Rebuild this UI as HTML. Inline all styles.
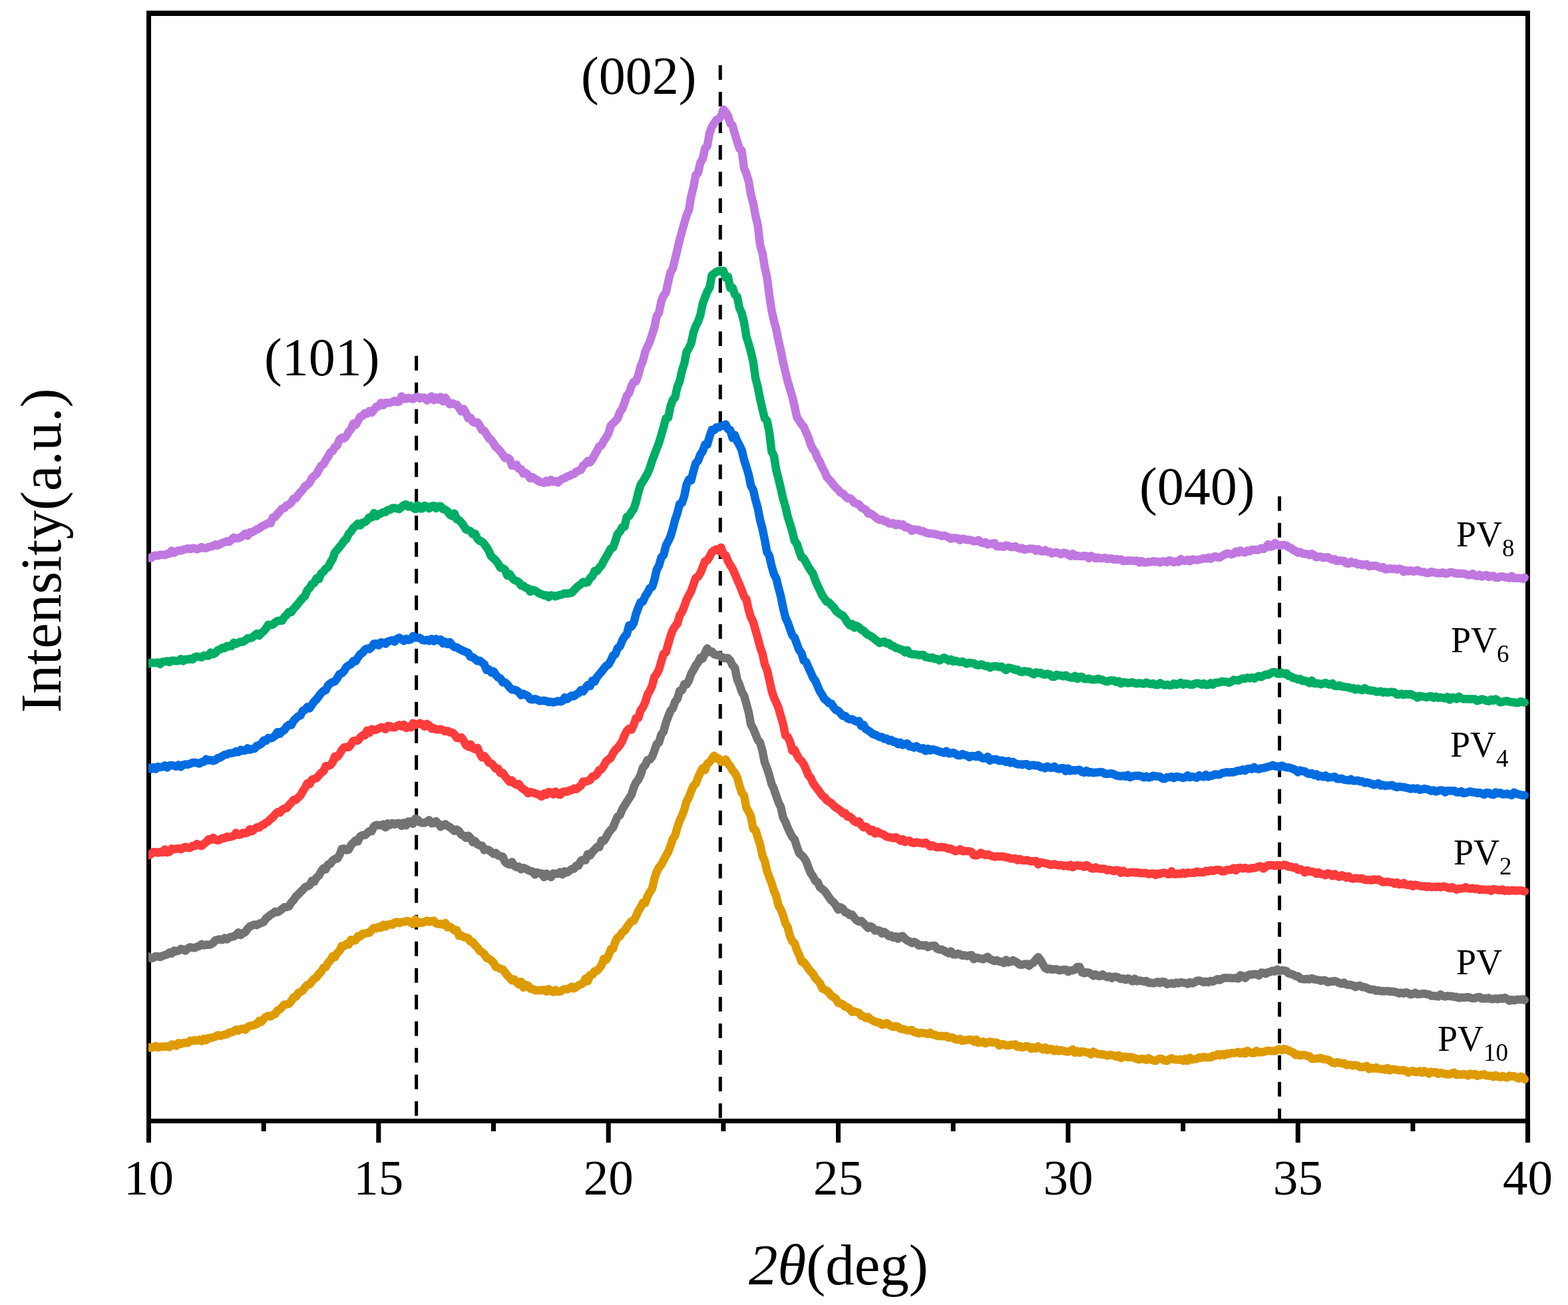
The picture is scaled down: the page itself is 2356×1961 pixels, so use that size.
<!DOCTYPE html>
<html><head><meta charset="utf-8"><style>
html,body{margin:0;padding:0;background:#fff;}
svg{display:block;}
text{font-family:"Liberation Serif","Times New Roman",serif;fill:#000;}
</style></head><body>
<svg xmlns="http://www.w3.org/2000/svg" width="2356" height="1961" viewBox="0 0 2356 1961">
<rect width="2356" height="1961" fill="#fff"/>
<g stroke="#000" stroke-width="5" stroke-dasharray="22 18" fill="none">
<line x1="625.6" y1="534.7" x2="625.6" y2="1681"/>
<line x1="1082.3" y1="98" x2="1082.3" y2="1681"/>
<line x1="1922.5" y1="745.8" x2="1922.5" y2="1681"/>
</g>
<g fill="#000">
<rect x="220" y="16" width="2079" height="8"/>
<rect x="220" y="1681" width="2079" height="7"/>
<rect x="220" y="16" width="7" height="1701"/>
<rect x="2292" y="16" width="7" height="1701"/>
<rect x="220.0" y="1684" width="7" height="33" fill="#000"/><rect x="392.7" y="1684" width="7" height="16" fill="#000"/><rect x="565.3" y="1684" width="7" height="33" fill="#000"/><rect x="738.0" y="1684" width="7" height="16" fill="#000"/><rect x="910.7" y="1684" width="7" height="33" fill="#000"/><rect x="1083.4" y="1684" width="7" height="16" fill="#000"/><rect x="1256.0" y="1684" width="7" height="33" fill="#000"/><rect x="1428.7" y="1684" width="7" height="16" fill="#000"/><rect x="1601.4" y="1684" width="7" height="33" fill="#000"/><rect x="1774.1" y="1684" width="7" height="16" fill="#000"/><rect x="1946.7" y="1684" width="7" height="33" fill="#000"/><rect x="2119.4" y="1684" width="7" height="16" fill="#000"/><rect x="2292.1" y="1684" width="7" height="33" fill="#000"/>
</g>
<defs><clipPath id="pc"><rect x="223" y="0" width="2090" height="1961"/></clipPath></defs>
<g clip-path="url(#pc)"><polyline fill="none" stroke="#DE9B00" stroke-width="12.5" stroke-linejoin="round" stroke-linecap="round" points="216.6,1572.7 223.5,1574.1 227.0,1574.4 230.4,1573.9 233.9,1571.8 237.3,1573.9 240.8,1573.1 244.2,1572.8 247.7,1572.5 251.1,1572.5 254.6,1573.5 258.0,1569.6 261.5,1569.9 264.9,1571.6 268.4,1567.3 271.8,1568.9 275.3,1567.1 278.8,1567.3 282.2,1567.3 285.7,1563.8 289.1,1564.2 292.6,1563.0 296.0,1563.8 299.5,1562.4 302.9,1564.4 306.4,1561.0 309.8,1563.1 313.3,1559.7 316.7,1559.8 320.2,1558.7 323.7,1557.8 327.1,1555.6 330.6,1556.6 334.0,1555.8 337.5,1554.8 340.9,1554.3 344.4,1551.5 347.8,1551.2 351.3,1549.7 354.7,1547.3 358.2,1548.8 361.6,1546.3 365.1,1545.7 368.5,1547.4 372.0,1543.2 375.5,1541.5 378.9,1541.3 382.4,1539.9 385.8,1539.0 389.3,1534.1 392.7,1535.6 396.2,1531.2 399.6,1528.0 403.1,1526.5 406.5,1527.5 410.0,1525.0 413.4,1523.7 416.9,1518.4 420.3,1516.9 423.8,1513.3 427.3,1509.4 430.7,1509.3 434.2,1508.5 437.6,1504.5 441.1,1498.4 444.5,1498.1 448.0,1492.2 451.4,1490.6 454.9,1488.5 458.3,1483.7 461.8,1479.9 465.2,1479.3 468.7,1474.6 472.2,1470.5 475.6,1468.7 479.1,1463.5 482.5,1460.5 486.0,1454.3 489.4,1453.3 492.9,1446.5 496.3,1443.6 499.8,1436.8 503.2,1438.1 506.7,1432.1 510.1,1429.0 513.6,1421.5 517.0,1421.9 520.5,1418.4 524.0,1419.2 527.4,1412.0 530.9,1413.6 534.3,1412.9 537.8,1406.8 541.2,1407.3 544.7,1403.1 548.1,1403.3 551.6,1401.8 555.0,1401.7 558.5,1397.6 561.9,1394.2 565.4,1395.2 568.9,1392.9 572.3,1394.0 575.8,1389.6 579.2,1392.6 582.7,1389.4 586.1,1388.8 589.6,1389.7 593.0,1386.1 596.5,1385.5 599.9,1387.0 603.4,1385.4 606.8,1385.3 610.3,1384.1 613.7,1384.2 617.2,1386.5 620.7,1388.6 624.1,1381.8 627.6,1387.6 631.0,1386.0 634.5,1386.9 637.9,1385.0 641.4,1383.6 644.8,1385.2 648.3,1384.4 651.7,1383.6 655.2,1387.4 658.6,1388.6 662.1,1388.0 665.5,1389.5 669.0,1387.0 672.5,1393.4 675.9,1392.6 679.4,1394.8 682.8,1398.2 686.3,1397.8 689.7,1406.1 693.2,1405.7 696.6,1408.0 700.1,1408.6 703.5,1409.8 707.0,1415.0 710.4,1415.7 713.9,1420.5 717.4,1423.6 720.8,1428.8 724.3,1430.8 727.7,1433.8 731.2,1439.6 734.6,1440.5 738.1,1443.2 741.5,1446.5 745.0,1453.2 748.4,1453.9 751.9,1456.0 755.3,1456.7 758.8,1461.0 762.2,1465.9 765.7,1468.9 769.2,1473.2 772.6,1471.8 776.1,1475.9 779.5,1479.2 783.0,1475.2 786.4,1484.0 789.9,1479.9 793.3,1481.2 796.8,1485.7 800.2,1486.0 803.7,1488.2 807.1,1488.1 810.6,1488.3 814.0,1488.1 817.5,1487.4 821.0,1489.9 824.4,1486.2 827.9,1489.1 831.3,1490.7 834.8,1487.6 838.2,1490.3 841.7,1489.9 845.1,1487.7 848.6,1486.3 852.0,1486.4 855.5,1485.4 858.9,1482.9 862.4,1485.3 865.9,1483.0 869.3,1480.5 872.8,1479.2 876.2,1477.1 879.7,1470.5 883.1,1474.5 886.6,1465.2 890.0,1464.9 893.5,1459.4 896.9,1458.8 900.4,1454.8 903.8,1450.5 907.3,1440.7 910.7,1442.4 914.2,1436.2 917.7,1426.4 921.1,1425.7 924.6,1415.2 928.0,1408.9 931.5,1406.8 934.9,1401.0 938.4,1398.9 941.8,1393.4 945.3,1388.5 948.7,1384.1 952.2,1383.6 955.6,1376.9 959.1,1369.2 962.5,1363.5 966.0,1356.6 969.5,1356.8 972.9,1347.0 976.4,1340.5 979.8,1335.7 983.3,1320.5 986.7,1310.1 990.2,1303.5 993.6,1299.3 997.1,1292.8 1000.5,1286.0 1004.0,1280.3 1007.4,1271.1 1010.9,1260.6 1014.4,1255.4 1017.8,1243.0 1021.3,1233.2 1024.7,1225.7 1028.2,1216.6 1031.6,1204.5 1035.1,1198.1 1038.5,1188.5 1042.0,1180.8 1045.4,1177.4 1048.9,1168.3 1052.3,1160.9 1055.8,1154.2 1059.2,1157.2 1062.7,1147.6 1066.2,1145.1 1069.6,1140.4 1073.1,1135.6 1076.5,1139.8 1080.0,1139.6 1083.4,1144.7 1086.9,1144.5 1090.3,1141.3 1093.8,1147.4 1097.2,1151.4 1100.7,1157.7 1104.1,1161.5 1107.6,1167.7 1111.0,1180.5 1114.5,1190.9 1118.0,1195.6 1121.4,1213.4 1124.9,1219.7 1128.3,1227.2 1131.8,1245.6 1135.2,1247.3 1138.7,1258.9 1142.1,1269.1 1145.6,1285.8 1149.0,1293.3 1152.5,1308.6 1155.9,1318.3 1159.4,1326.9 1162.9,1338.8 1166.3,1346.5 1169.8,1361.1 1173.2,1366.8 1176.7,1375.8 1180.1,1387.3 1183.6,1393.4 1187.0,1406.9 1190.5,1414.7 1193.9,1417.2 1197.4,1428.1 1200.8,1434.6 1204.3,1445.1 1207.7,1445.8 1211.2,1450.5 1214.7,1455.6 1218.1,1459.9 1221.6,1463.2 1225.0,1469.8 1228.5,1473.2 1231.9,1477.2 1235.4,1485.3 1238.8,1487.0 1242.3,1488.7 1245.7,1491.7 1249.2,1496.6 1252.6,1498.3 1256.1,1501.1 1259.6,1507.3 1263.0,1507.8 1266.5,1509.4 1269.9,1512.6 1273.4,1513.5 1276.8,1516.3 1280.3,1520.6 1283.7,1519.8 1287.2,1520.9 1290.6,1522.0 1294.1,1526.4 1297.5,1527.1 1301.0,1529.6 1304.4,1528.4 1307.9,1531.6 1311.4,1533.6 1314.8,1535.4 1318.3,1536.3 1321.7,1536.7 1325.2,1539.9 1328.6,1539.1 1332.1,1537.4 1335.5,1539.4 1339.0,1542.0 1342.4,1543.2 1345.9,1542.0 1349.3,1543.0 1352.8,1545.8 1356.2,1546.4 1359.7,1547.3 1363.2,1548.4 1366.6,1548.2 1370.1,1547.8 1373.5,1551.1 1377.0,1551.4 1380.4,1553.0 1383.9,1552.0 1387.3,1552.2 1390.8,1553.0 1394.2,1553.8 1397.7,1551.7 1401.1,1554.5 1404.6,1554.9 1408.1,1556.5 1411.5,1557.0 1415.0,1556.8 1418.4,1557.3 1421.9,1556.7 1425.3,1559.3 1428.8,1558.9 1432.2,1559.6 1435.7,1561.9 1439.1,1562.3 1442.6,1561.1 1446.0,1564.0 1449.5,1563.2 1452.9,1562.8 1456.4,1562.1 1459.9,1562.5 1463.3,1565.2 1466.8,1562.0 1470.2,1566.9 1473.7,1566.0 1477.1,1565.2 1480.6,1568.0 1484.0,1566.7 1487.5,1565.3 1490.9,1566.5 1494.4,1566.4 1497.8,1566.7 1501.3,1571.0 1504.7,1569.2 1508.2,1569.3 1511.7,1570.9 1515.1,1571.1 1518.6,1570.0 1522.0,1570.0 1525.5,1569.3 1528.9,1573.1 1532.4,1572.1 1535.8,1573.9 1539.3,1573.2 1542.7,1571.9 1546.2,1573.2 1549.6,1576.0 1553.1,1573.9 1556.6,1575.5 1560.0,1572.5 1563.5,1574.7 1566.9,1577.1 1570.4,1574.0 1573.8,1577.9 1577.3,1576.3 1580.7,1576.5 1584.2,1579.3 1587.6,1577.2 1591.1,1579.4 1594.5,1577.9 1598.0,1579.1 1601.4,1580.1 1604.9,1580.4 1608.4,1579.1 1611.8,1577.0 1615.3,1581.9 1618.7,1579.5 1622.2,1581.9 1625.6,1579.8 1629.1,1580.5 1632.5,1581.5 1636.0,1581.7 1639.4,1584.4 1642.9,1580.5 1646.3,1582.3 1649.8,1583.7 1653.2,1584.3 1656.7,1584.3 1660.2,1585.0 1663.6,1586.4 1667.1,1585.0 1670.5,1585.4 1674.0,1586.4 1677.4,1587.7 1680.9,1585.7 1684.3,1589.9 1687.8,1587.7 1691.2,1587.9 1694.7,1588.7 1698.1,1588.3 1701.6,1588.9 1705.1,1590.1 1708.5,1591.4 1712.0,1592.1 1715.4,1591.1 1718.9,1591.5 1722.3,1592.6 1725.8,1590.1 1729.2,1592.1 1732.7,1593.5 1736.1,1594.2 1739.6,1592.0 1743.0,1590.7 1746.5,1591.5 1749.9,1593.5 1753.4,1594.2 1756.9,1591.7 1760.3,1590.1 1763.8,1591.8 1767.2,1592.4 1770.7,1592.4 1774.1,1591.7 1777.6,1593.9 1781.0,1591.0 1784.5,1594.1 1787.9,1589.5 1791.4,1592.2 1794.8,1591.6 1798.3,1591.0 1801.7,1589.0 1805.2,1589.5 1808.7,1588.0 1812.1,1589.1 1815.6,1589.1 1819.0,1589.1 1822.5,1586.6 1825.9,1586.5 1829.4,1584.2 1832.8,1586.0 1836.3,1584.0 1839.7,1585.7 1843.2,1583.2 1846.6,1583.8 1850.1,1582.3 1853.6,1582.4 1857.0,1582.0 1860.5,1580.7 1863.9,1583.0 1867.4,1580.9 1870.8,1583.3 1874.3,1578.9 1877.7,1581.1 1881.2,1582.5 1884.6,1582.5 1888.1,1579.1 1891.5,1581.4 1895.0,1581.1 1898.4,1580.9 1901.9,1579.6 1905.4,1578.7 1908.8,1579.3 1912.3,1579.2 1915.7,1579.2 1919.2,1577.6 1922.6,1576.5 1926.1,1578.2 1929.5,1576.0 1933.0,1577.4 1936.4,1578.4 1939.9,1580.4 1943.3,1581.8 1946.8,1585.2 1950.3,1584.8 1953.7,1586.0 1957.2,1585.3 1960.6,1585.2 1964.1,1586.8 1967.5,1587.3 1971.0,1590.9 1974.4,1590.9 1977.9,1590.8 1981.3,1590.4 1984.8,1589.7 1988.2,1591.5 1991.7,1591.8 1995.1,1592.4 1998.6,1594.4 2002.1,1596.7 2005.5,1597.7 2009.0,1596.0 2012.4,1597.0 2015.9,1598.0 2019.3,1597.6 2022.8,1600.4 2026.2,1600.1 2029.7,1600.2 2033.1,1601.2 2036.6,1600.6 2040.0,1601.3 2043.5,1603.4 2046.9,1603.6 2050.4,1603.2 2053.9,1601.9 2057.3,1606.5 2060.8,1604.8 2064.2,1605.7 2067.7,1604.0 2071.1,1606.0 2074.6,1606.4 2078.0,1606.4 2081.5,1607.7 2084.9,1604.9 2088.4,1608.3 2091.8,1606.8 2095.3,1607.0 2098.8,1607.7 2102.2,1608.5 2105.7,1608.5 2109.1,1608.1 2112.6,1609.3 2116.0,1611.9 2119.5,1609.9 2122.9,1609.1 2126.4,1611.0 2129.8,1610.9 2133.3,1609.4 2136.7,1611.8 2140.2,1609.4 2143.6,1611.6 2147.1,1613.3 2150.6,1610.4 2154.0,1611.4 2157.5,1611.3 2160.9,1613.8 2164.4,1612.0 2167.8,1612.8 2171.3,1613.6 2174.7,1614.4 2178.2,1614.3 2181.6,1612.8 2185.1,1611.9 2188.5,1615.1 2192.0,1614.3 2195.4,1615.1 2198.9,1613.9 2202.4,1614.7 2205.8,1616.3 2209.3,1613.5 2212.7,1615.0 2216.2,1613.7 2219.6,1616.8 2223.1,1615.8 2226.5,1614.9 2230.0,1614.3 2233.4,1616.3 2236.9,1616.5 2240.3,1616.4 2243.8,1618.1 2247.3,1615.9 2250.7,1617.9 2254.2,1618.8 2257.6,1616.9 2261.1,1618.5 2264.5,1619.4 2268.0,1616.6 2271.4,1617.6 2274.9,1617.1 2278.3,1619.1 2281.8,1620.6 2285.2,1617.5 2288.7,1619.2 2290.8,1621.9"/><polyline fill="none" stroke="#737373" stroke-width="12.5" stroke-linejoin="round" stroke-linecap="round" points="216.6,1440.7 223.5,1437.5 227.0,1440.0 230.4,1439.3 233.9,1437.1 237.3,1437.2 240.8,1438.1 244.2,1436.4 247.7,1435.1 251.1,1434.2 254.6,1431.4 258.0,1432.9 261.5,1428.6 264.9,1429.5 268.4,1428.5 271.8,1425.9 275.3,1427.2 278.8,1428.7 282.2,1425.3 285.7,1423.3 289.1,1424.0 292.6,1424.4 296.0,1422.7 299.5,1421.6 302.9,1418.8 306.4,1420.5 309.8,1419.6 313.3,1419.8 316.7,1419.1 320.2,1417.0 323.7,1412.8 327.1,1412.1 330.6,1411.5 334.0,1412.3 337.5,1409.7 340.9,1411.5 344.4,1408.8 347.8,1407.8 351.3,1407.0 354.7,1405.1 358.2,1401.2 361.6,1405.2 365.1,1402.2 368.5,1400.6 372.0,1395.6 375.5,1392.1 378.9,1390.7 382.4,1389.4 385.8,1390.2 389.3,1388.1 392.7,1386.8 396.2,1385.5 399.6,1380.3 403.1,1377.6 406.5,1374.5 410.0,1372.7 413.4,1369.7 416.9,1370.7 420.3,1368.8 423.8,1365.9 427.3,1363.3 430.7,1363.1 434.2,1361.9 437.6,1356.3 441.1,1352.6 444.5,1347.3 448.0,1344.2 451.4,1340.6 454.9,1337.2 458.3,1333.3 461.8,1331.7 465.2,1330.2 468.7,1323.4 472.2,1324.7 475.6,1318.7 479.1,1315.8 482.5,1309.3 486.0,1305.0 489.4,1306.5 492.9,1298.8 496.3,1298.2 499.8,1293.2 503.2,1290.8 506.7,1290.4 510.1,1284.9 513.6,1275.6 517.0,1275.2 520.5,1277.4 524.0,1276.6 527.4,1270.0 530.9,1266.5 534.3,1262.8 537.8,1264.3 541.2,1256.8 544.7,1255.0 548.1,1255.0 551.6,1252.2 555.0,1248.9 558.5,1249.0 561.9,1241.7 565.4,1239.7 568.9,1240.0 572.3,1240.2 575.8,1238.7 579.2,1243.2 582.7,1237.3 586.1,1239.7 589.6,1237.0 593.0,1238.9 596.5,1237.2 599.9,1237.1 603.4,1241.1 606.8,1236.4 610.3,1240.3 613.7,1234.5 617.2,1234.6 620.7,1237.8 624.1,1230.1 627.6,1231.8 631.0,1235.4 634.5,1236.4 637.9,1236.6 641.4,1234.7 644.8,1232.3 648.3,1237.2 651.7,1236.7 655.2,1234.0 658.6,1237.5 662.1,1242.4 665.5,1240.0 669.0,1238.4 672.5,1241.3 675.9,1242.8 679.4,1245.8 682.8,1248.6 686.3,1246.5 689.7,1248.9 693.2,1254.3 696.6,1255.7 700.1,1259.2 703.5,1255.7 707.0,1259.2 710.4,1265.6 713.9,1264.0 717.4,1268.8 720.8,1270.1 724.3,1270.8 727.7,1277.3 731.2,1276.4 734.6,1277.5 738.1,1280.2 741.5,1283.1 745.0,1281.7 748.4,1285.3 751.9,1286.6 755.3,1287.1 758.8,1295.1 762.2,1297.8 765.7,1299.1 769.2,1295.2 772.6,1301.0 776.1,1303.1 779.5,1302.3 783.0,1306.3 786.4,1304.0 789.9,1305.5 793.3,1307.4 796.8,1308.9 800.2,1309.6 803.7,1314.2 807.1,1311.1 810.6,1312.6 814.0,1312.6 817.5,1318.1 821.0,1312.7 824.4,1315.4 827.9,1318.0 831.3,1312.5 834.8,1312.9 838.2,1313.1 841.7,1310.4 845.1,1313.9 848.6,1309.5 852.0,1311.0 855.5,1308.6 858.9,1305.9 862.4,1305.5 865.9,1300.7 869.3,1300.7 872.8,1293.5 876.2,1291.9 879.7,1292.8 883.1,1283.5 886.6,1285.4 890.0,1280.4 893.5,1276.7 896.9,1272.8 900.4,1273.0 903.8,1263.2 907.3,1263.6 910.7,1258.2 914.2,1251.5 917.7,1247.1 921.1,1243.3 924.6,1234.9 928.0,1227.1 931.5,1225.0 934.9,1216.2 938.4,1210.6 941.8,1205.0 945.3,1199.6 948.7,1194.6 952.2,1183.4 955.6,1175.8 959.1,1171.6 962.5,1164.6 966.0,1153.4 969.5,1149.7 972.9,1142.1 976.4,1141.4 979.8,1137.1 983.3,1128.3 986.7,1118.0 990.2,1115.8 993.6,1103.7 997.1,1099.1 1000.5,1086.4 1004.0,1076.9 1007.4,1068.3 1010.9,1064.3 1014.4,1054.4 1017.8,1050.1 1021.3,1038.0 1024.7,1037.2 1028.2,1028.2 1031.6,1028.4 1035.1,1022.2 1038.5,1012.5 1042.0,1006.6 1045.4,999.9 1048.9,995.3 1052.3,988.7 1055.8,989.7 1059.2,981.5 1062.7,974.3 1066.2,979.9 1069.6,979.0 1073.1,983.3 1076.5,984.2 1080.0,984.4 1083.4,986.5 1086.9,989.0 1090.3,988.7 1093.8,988.9 1097.2,992.6 1100.7,999.9 1104.1,1003.3 1107.6,1020.7 1111.0,1028.6 1114.5,1039.3 1118.0,1045.3 1121.4,1057.5 1124.9,1070.3 1128.3,1089.1 1131.8,1094.8 1135.2,1103.3 1138.7,1112.0 1142.1,1116.1 1145.6,1128.4 1149.0,1145.7 1152.5,1154.5 1155.9,1165.0 1159.4,1178.2 1162.9,1185.7 1166.3,1195.8 1169.8,1205.8 1173.2,1212.6 1176.7,1228.3 1180.1,1235.0 1183.6,1243.6 1187.0,1251.0 1190.5,1257.8 1193.9,1261.4 1197.4,1272.4 1200.8,1282.0 1204.3,1285.2 1207.7,1288.6 1211.2,1293.9 1214.7,1303.6 1218.1,1311.9 1221.6,1316.9 1225.0,1323.8 1228.5,1325.4 1231.9,1333.3 1235.4,1335.9 1238.8,1338.8 1242.3,1343.3 1245.7,1348.5 1249.2,1353.2 1252.6,1356.0 1256.1,1360.6 1259.6,1366.9 1263.0,1363.5 1266.5,1365.5 1269.9,1371.0 1273.4,1371.5 1276.8,1375.1 1280.3,1374.4 1283.7,1379.1 1287.2,1383.0 1290.6,1384.8 1294.1,1383.7 1297.5,1387.1 1301.0,1390.9 1304.4,1394.3 1307.9,1392.1 1311.4,1393.9 1314.8,1398.4 1318.3,1397.9 1321.7,1398.4 1325.2,1402.8 1328.6,1400.3 1332.1,1403.1 1335.5,1406.7 1339.0,1405.7 1342.4,1408.9 1345.9,1407.2 1349.3,1410.8 1352.8,1407.4 1356.2,1406.6 1359.7,1410.5 1363.2,1413.3 1366.6,1414.6 1370.1,1417.0 1373.5,1415.4 1377.0,1417.1 1380.4,1420.8 1383.9,1420.2 1387.3,1421.0 1390.8,1420.3 1394.2,1423.2 1397.7,1421.4 1401.1,1421.2 1404.6,1421.1 1408.1,1425.6 1411.5,1426.7 1415.0,1426.8 1418.4,1428.5 1421.9,1430.5 1425.3,1432.4 1428.8,1429.5 1432.2,1434.2 1435.7,1434.4 1439.1,1433.0 1442.6,1434.1 1446.0,1435.9 1449.5,1435.5 1452.9,1436.7 1456.4,1435.7 1459.9,1435.3 1463.3,1441.3 1466.8,1439.0 1470.2,1439.6 1473.7,1440.5 1477.1,1441.4 1480.6,1439.5 1484.0,1437.9 1487.5,1441.4 1490.9,1442.7 1494.4,1444.1 1497.8,1443.0 1501.3,1444.7 1504.7,1445.0 1508.2,1447.0 1511.7,1442.5 1515.1,1446.1 1518.6,1445.0 1522.0,1443.1 1525.5,1444.8 1528.9,1446.8 1532.4,1449.6 1535.8,1449.8 1539.3,1448.8 1542.7,1448.6 1546.2,1451.2 1549.6,1448.3 1553.1,1446.3 1556.6,1441.9 1560.0,1438.3 1563.5,1442.7 1566.9,1449.0 1570.4,1454.7 1573.8,1456.5 1577.3,1455.6 1580.7,1456.9 1584.2,1456.5 1587.6,1456.4 1591.1,1458.3 1594.5,1457.7 1598.0,1457.2 1601.4,1456.9 1604.9,1460.2 1608.4,1458.3 1611.8,1458.2 1615.3,1456.7 1618.7,1452.9 1622.2,1453.0 1625.6,1461.2 1629.1,1462.5 1632.5,1461.1 1636.0,1461.7 1639.4,1463.3 1642.9,1466.3 1646.3,1464.3 1649.8,1466.4 1653.2,1466.7 1656.7,1464.4 1660.2,1466.8 1663.6,1468.4 1667.1,1467.3 1670.5,1469.8 1674.0,1467.7 1677.4,1467.7 1680.9,1469.4 1684.3,1471.1 1687.8,1470.4 1691.2,1472.4 1694.7,1470.2 1698.1,1471.8 1701.6,1474.6 1705.1,1470.8 1708.5,1474.4 1712.0,1473.5 1715.4,1474.1 1718.9,1474.9 1722.3,1474.0 1725.8,1476.9 1729.2,1476.7 1732.7,1477.5 1736.1,1476.5 1739.6,1475.3 1743.0,1477.2 1746.5,1475.1 1749.9,1475.6 1753.4,1479.0 1756.9,1478.0 1760.3,1477.3 1763.8,1478.5 1767.2,1476.6 1770.7,1477.6 1774.1,1476.1 1777.6,1476.6 1781.0,1477.1 1784.5,1478.6 1787.9,1476.0 1791.4,1477.7 1794.8,1476.3 1798.3,1474.0 1801.7,1473.5 1805.2,1474.5 1808.7,1476.1 1812.1,1474.8 1815.6,1476.1 1819.0,1473.9 1822.5,1474.9 1825.9,1473.2 1829.4,1471.4 1832.8,1472.8 1836.3,1470.6 1839.7,1469.4 1843.2,1469.6 1846.6,1469.5 1850.1,1469.8 1853.6,1470.0 1857.0,1469.3 1860.5,1470.5 1863.9,1465.4 1867.4,1467.0 1870.8,1469.8 1874.3,1466.0 1877.7,1464.4 1881.2,1464.6 1884.6,1463.8 1888.1,1463.9 1891.5,1465.9 1895.0,1461.6 1898.4,1461.7 1901.9,1463.3 1905.4,1461.1 1908.8,1460.3 1912.3,1458.7 1915.7,1459.7 1919.2,1456.9 1922.6,1459.0 1926.1,1458.1 1929.5,1458.5 1933.0,1459.4 1936.4,1462.7 1939.9,1463.7 1943.3,1464.6 1946.8,1466.9 1950.3,1466.9 1953.7,1470.5 1957.2,1471.2 1960.6,1471.5 1964.1,1471.0 1967.5,1471.7 1971.0,1470.0 1974.4,1471.5 1977.9,1472.1 1981.3,1472.6 1984.8,1473.9 1988.2,1473.1 1991.7,1473.3 1995.1,1476.0 1998.6,1474.8 2002.1,1475.0 2005.5,1474.0 2009.0,1475.3 2012.4,1477.2 2015.9,1478.3 2019.3,1476.6 2022.8,1479.2 2026.2,1480.1 2029.7,1479.8 2033.1,1481.0 2036.6,1483.1 2040.0,1481.4 2043.5,1481.1 2046.9,1483.2 2050.4,1483.3 2053.9,1484.8 2057.3,1486.3 2060.8,1487.1 2064.2,1487.1 2067.7,1488.8 2071.1,1488.2 2074.6,1489.4 2078.0,1489.2 2081.5,1489.5 2084.9,1489.1 2088.4,1490.0 2091.8,1489.8 2095.3,1490.5 2098.8,1491.2 2102.2,1492.7 2105.7,1491.6 2109.1,1492.8 2112.6,1491.2 2116.0,1492.5 2119.5,1494.4 2122.9,1493.7 2126.4,1491.8 2129.8,1493.9 2133.3,1494.0 2136.7,1493.3 2140.2,1493.0 2143.6,1494.1 2147.1,1494.3 2150.6,1496.4 2154.0,1496.5 2157.5,1496.8 2160.9,1497.5 2164.4,1494.4 2167.8,1496.6 2171.3,1497.4 2174.7,1496.6 2178.2,1496.9 2181.6,1496.9 2185.1,1498.1 2188.5,1498.1 2192.0,1499.6 2195.4,1498.9 2198.9,1498.9 2202.4,1498.8 2205.8,1498.2 2209.3,1499.3 2212.7,1500.2 2216.2,1500.0 2219.6,1498.6 2223.1,1498.3 2226.5,1500.6 2230.0,1500.3 2233.4,1500.5 2236.9,1499.5 2240.3,1501.2 2243.8,1501.3 2247.3,1500.4 2250.7,1501.4 2254.2,1500.0 2257.6,1501.0 2261.1,1499.2 2264.5,1501.0 2268.0,1503.8 2271.4,1502.2 2274.9,1503.3 2278.3,1502.2 2281.8,1502.0 2285.2,1502.1 2288.7,1501.5 2290.8,1502.7"/><polyline fill="none" stroke="#FF3C3C" stroke-width="12.5" stroke-linejoin="round" stroke-linecap="round" points="216.6,1284.6 223.5,1285.4 227.0,1283.4 230.4,1280.3 233.9,1280.4 237.3,1281.6 240.8,1279.9 244.2,1280.9 247.7,1276.4 251.1,1281.0 254.6,1280.1 258.0,1275.4 261.5,1276.3 264.9,1275.4 268.4,1275.1 271.8,1276.3 275.3,1273.7 278.8,1272.6 282.2,1274.0 285.7,1274.1 289.1,1271.1 292.6,1271.3 296.0,1268.2 299.5,1270.5 302.9,1271.2 306.4,1267.9 309.8,1265.5 313.3,1261.2 316.7,1262.1 320.2,1258.7 323.7,1261.9 327.1,1262.8 330.6,1261.8 334.0,1259.6 337.5,1259.5 340.9,1257.3 344.4,1257.8 347.8,1257.1 351.3,1256.0 354.7,1251.5 358.2,1254.7 361.6,1254.0 365.1,1251.4 368.5,1252.0 372.0,1251.4 375.5,1246.0 378.9,1249.1 382.4,1245.7 385.8,1243.3 389.3,1243.6 392.7,1240.5 396.2,1239.1 399.6,1236.3 403.1,1234.4 406.5,1230.6 410.0,1228.1 413.4,1223.9 416.9,1220.4 420.3,1221.3 423.8,1217.0 427.3,1214.9 430.7,1214.2 434.2,1209.9 437.6,1206.3 441.1,1201.9 444.5,1202.1 448.0,1198.4 451.4,1195.3 454.9,1188.9 458.3,1184.0 461.8,1177.0 465.2,1178.3 468.7,1171.5 472.2,1170.4 475.6,1169.1 479.1,1165.1 482.5,1161.4 486.0,1158.9 489.4,1151.3 492.9,1151.1 496.3,1149.6 499.8,1145.5 503.2,1136.5 506.7,1137.5 510.1,1133.1 513.6,1127.1 517.0,1123.2 520.5,1122.6 524.0,1122.9 527.4,1118.6 530.9,1113.2 534.3,1113.1 537.8,1112.7 541.2,1108.2 544.7,1105.1 548.1,1104.9 551.6,1097.7 555.0,1101.2 558.5,1095.8 561.9,1096.9 565.4,1096.6 568.9,1094.7 572.3,1093.0 575.8,1093.5 579.2,1095.8 582.7,1090.8 586.1,1091.3 589.6,1093.1 593.0,1093.3 596.5,1090.9 599.9,1089.3 603.4,1091.6 606.8,1088.9 610.3,1093.9 613.7,1092.1 617.2,1093.1 620.7,1086.9 624.1,1088.0 627.6,1088.5 631.0,1086.6 634.5,1088.4 637.9,1091.8 641.4,1088.0 644.8,1090.0 648.3,1094.9 651.7,1094.2 655.2,1096.2 658.6,1096.2 662.1,1095.7 665.5,1097.0 669.0,1099.1 672.5,1098.2 675.9,1100.5 679.4,1100.8 682.8,1103.3 686.3,1108.8 689.7,1109.3 693.2,1108.0 696.6,1112.9 700.1,1119.6 703.5,1122.0 707.0,1118.5 710.4,1124.2 713.9,1126.0 717.4,1123.7 720.8,1132.0 724.3,1138.2 727.7,1136.1 731.2,1140.2 734.6,1146.1 738.1,1147.0 741.5,1150.5 745.0,1155.1 748.4,1155.0 751.9,1161.5 755.3,1161.2 758.8,1166.5 762.2,1170.6 765.7,1174.7 769.2,1172.8 772.6,1177.0 776.1,1179.4 779.5,1178.1 783.0,1183.3 786.4,1185.8 789.9,1188.0 793.3,1191.9 796.8,1190.0 800.2,1191.0 803.7,1192.1 807.1,1193.2 810.6,1194.7 814.0,1196.9 817.5,1192.5 821.0,1194.2 824.4,1190.0 827.9,1190.9 831.3,1193.7 834.8,1189.5 838.2,1193.3 841.7,1194.4 845.1,1190.1 848.6,1189.5 852.0,1189.7 855.5,1187.7 858.9,1187.3 862.4,1184.9 865.9,1186.0 869.3,1183.2 872.8,1180.5 876.2,1174.4 879.7,1174.7 883.1,1173.5 886.6,1172.1 890.0,1166.8 893.5,1166.1 896.9,1163.3 900.4,1157.2 903.8,1156.0 907.3,1150.5 910.7,1144.3 914.2,1141.3 917.7,1138.8 921.1,1132.0 924.6,1126.7 928.0,1123.9 931.5,1119.3 934.9,1113.8 938.4,1104.9 941.8,1098.4 945.3,1095.1 948.7,1096.6 952.2,1089.2 955.6,1079.2 959.1,1078.7 962.5,1067.5 966.0,1062.7 969.5,1055.1 972.9,1043.8 976.4,1037.9 979.8,1030.6 983.3,1017.0 986.7,1013.0 990.2,1005.7 993.6,994.0 997.1,982.4 1000.5,980.4 1004.0,967.8 1007.4,956.2 1010.9,946.7 1014.4,941.0 1017.8,936.9 1021.3,924.8 1024.7,919.8 1028.2,910.9 1031.6,901.2 1035.1,894.5 1038.5,888.1 1042.0,878.0 1045.4,868.4 1048.9,866.5 1052.3,861.2 1055.8,852.7 1059.2,843.4 1062.7,842.1 1066.2,836.5 1069.6,829.7 1073.1,827.1 1076.5,825.5 1080.0,827.5 1083.4,822.7 1086.9,833.0 1090.3,834.2 1093.8,843.1 1097.2,849.2 1100.7,854.7 1104.1,862.2 1107.6,870.6 1111.0,878.3 1114.5,886.9 1118.0,896.4 1121.4,900.4 1124.9,916.4 1128.3,927.7 1131.8,934.6 1135.2,947.1 1138.7,959.1 1142.1,972.5 1145.6,982.1 1149.0,998.1 1152.5,1006.5 1155.9,1021.3 1159.4,1037.5 1162.9,1048.2 1166.3,1055.6 1169.8,1064.0 1173.2,1076.2 1176.7,1088.1 1180.1,1105.1 1183.6,1107.4 1187.0,1114.4 1190.5,1128.2 1193.9,1126.9 1197.4,1134.3 1200.8,1140.6 1204.3,1143.6 1207.7,1148.5 1211.2,1156.5 1214.7,1165.0 1218.1,1168.9 1221.6,1176.5 1225.0,1181.5 1228.5,1186.0 1231.9,1190.5 1235.4,1195.5 1238.8,1198.0 1242.3,1202.6 1245.7,1204.7 1249.2,1206.8 1252.6,1210.7 1256.1,1213.5 1259.6,1215.7 1263.0,1218.3 1266.5,1222.1 1269.9,1221.7 1273.4,1227.2 1276.8,1227.2 1280.3,1230.0 1283.7,1234.2 1287.2,1235.9 1290.6,1234.2 1294.1,1239.6 1297.5,1243.3 1301.0,1242.2 1304.4,1244.8 1307.9,1249.1 1311.4,1247.0 1314.8,1252.6 1318.3,1249.7 1321.7,1251.9 1325.2,1253.3 1328.6,1254.6 1332.1,1257.4 1335.5,1257.9 1339.0,1258.6 1342.4,1259.6 1345.9,1258.0 1349.3,1260.2 1352.8,1263.3 1356.2,1261.0 1359.7,1265.1 1363.2,1263.7 1366.6,1263.3 1370.1,1266.3 1373.5,1266.9 1377.0,1265.6 1380.4,1266.4 1383.9,1266.7 1387.3,1267.6 1390.8,1266.1 1394.2,1268.8 1397.7,1272.0 1401.1,1270.3 1404.6,1272.1 1408.1,1273.3 1411.5,1273.0 1415.0,1272.8 1418.4,1273.3 1421.9,1273.9 1425.3,1275.6 1428.8,1275.3 1432.2,1277.3 1435.7,1279.1 1439.1,1278.1 1442.6,1276.2 1446.0,1278.9 1449.5,1278.8 1452.9,1279.0 1456.4,1279.1 1459.9,1280.2 1463.3,1285.1 1466.8,1285.5 1470.2,1284.3 1473.7,1281.5 1477.1,1283.3 1480.6,1285.0 1484.0,1283.7 1487.5,1285.4 1490.9,1286.5 1494.4,1287.6 1497.8,1286.8 1501.3,1287.1 1504.7,1286.9 1508.2,1287.3 1511.7,1288.4 1515.1,1288.6 1518.6,1290.2 1522.0,1290.2 1525.5,1290.0 1528.9,1292.6 1532.4,1290.9 1535.8,1292.6 1539.3,1293.0 1542.7,1292.3 1546.2,1293.6 1549.6,1294.4 1553.1,1294.1 1556.6,1293.7 1560.0,1299.0 1563.5,1295.7 1566.9,1296.6 1570.4,1297.1 1573.8,1297.9 1577.3,1299.3 1580.7,1299.7 1584.2,1298.4 1587.6,1299.8 1591.1,1300.4 1594.5,1299.7 1598.0,1301.5 1601.4,1300.7 1604.9,1301.7 1608.4,1299.7 1611.8,1303.2 1615.3,1301.1 1618.7,1300.4 1622.2,1300.8 1625.6,1301.2 1629.1,1302.8 1632.5,1300.1 1636.0,1302.0 1639.4,1304.8 1642.9,1305.4 1646.3,1303.2 1649.8,1305.1 1653.2,1305.6 1656.7,1305.6 1660.2,1305.7 1663.6,1307.8 1667.1,1307.0 1670.5,1308.0 1674.0,1309.1 1677.4,1307.5 1680.9,1307.9 1684.3,1311.8 1687.8,1308.5 1691.2,1311.3 1694.7,1311.7 1698.1,1310.8 1701.6,1310.7 1705.1,1311.3 1708.5,1310.8 1712.0,1312.0 1715.4,1311.9 1718.9,1311.8 1722.3,1312.1 1725.8,1313.6 1729.2,1312.7 1732.7,1312.5 1736.1,1314.8 1739.6,1312.7 1743.0,1313.4 1746.5,1311.7 1749.9,1311.5 1753.4,1313.2 1756.9,1313.7 1760.3,1309.3 1763.8,1313.4 1767.2,1313.5 1770.7,1312.6 1774.1,1313.3 1777.6,1311.4 1781.0,1313.0 1784.5,1311.2 1787.9,1311.9 1791.4,1311.4 1794.8,1311.7 1798.3,1309.5 1801.7,1310.9 1805.2,1310.5 1808.7,1310.9 1812.1,1308.6 1815.6,1309.4 1819.0,1307.8 1822.5,1308.9 1825.9,1307.5 1829.4,1306.9 1832.8,1307.2 1836.3,1309.5 1839.7,1309.2 1843.2,1307.3 1846.6,1307.0 1850.1,1306.9 1853.6,1304.4 1857.0,1308.0 1860.5,1304.5 1863.9,1304.0 1867.4,1305.1 1870.8,1304.0 1874.3,1305.3 1877.7,1305.5 1881.2,1304.2 1884.6,1304.5 1888.1,1303.4 1891.5,1301.8 1895.0,1302.0 1898.4,1305.3 1901.9,1302.5 1905.4,1300.0 1908.8,1300.2 1912.3,1300.0 1915.7,1301.3 1919.2,1299.9 1922.6,1300.7 1926.1,1300.8 1929.5,1299.4 1933.0,1300.3 1936.4,1302.6 1939.9,1302.3 1943.3,1303.9 1946.8,1303.3 1950.3,1306.9 1953.7,1305.9 1957.2,1308.0 1960.6,1311.2 1964.1,1307.8 1967.5,1309.5 1971.0,1309.7 1974.4,1310.3 1977.9,1313.0 1981.3,1311.0 1984.8,1313.6 1988.2,1313.7 1991.7,1315.2 1995.1,1312.4 1998.6,1313.3 2002.1,1316.2 2005.5,1313.5 2009.0,1316.2 2012.4,1317.7 2015.9,1315.3 2019.3,1316.3 2022.8,1318.8 2026.2,1316.9 2029.7,1319.6 2033.1,1320.4 2036.6,1319.6 2040.0,1319.9 2043.5,1320.3 2046.9,1320.0 2050.4,1322.0 2053.9,1322.4 2057.3,1322.0 2060.8,1322.8 2064.2,1321.4 2067.7,1322.3 2071.1,1321.5 2074.6,1323.6 2078.0,1325.6 2081.5,1325.4 2084.9,1325.0 2088.4,1325.6 2091.8,1326.0 2095.3,1327.9 2098.8,1326.0 2102.2,1328.9 2105.7,1328.6 2109.1,1326.9 2112.6,1329.5 2116.0,1330.0 2119.5,1329.2 2122.9,1331.9 2126.4,1329.6 2129.8,1330.3 2133.3,1331.3 2136.7,1332.0 2140.2,1331.6 2143.6,1333.0 2147.1,1331.7 2150.6,1333.1 2154.0,1332.6 2157.5,1333.0 2160.9,1332.2 2164.4,1333.3 2167.8,1332.0 2171.3,1332.2 2174.7,1333.7 2178.2,1334.8 2181.6,1333.1 2185.1,1334.8 2188.5,1336.7 2192.0,1335.2 2195.4,1335.4 2198.9,1334.8 2202.4,1333.1 2205.8,1334.8 2209.3,1335.5 2212.7,1334.5 2216.2,1336.0 2219.6,1335.3 2223.1,1337.1 2226.5,1336.5 2230.0,1336.8 2233.4,1337.2 2236.9,1336.8 2240.3,1338.7 2243.8,1336.1 2247.3,1336.6 2250.7,1337.5 2254.2,1337.8 2257.6,1336.5 2261.1,1338.9 2264.5,1337.8 2268.0,1338.8 2271.4,1337.7 2274.9,1337.9 2278.3,1338.7 2281.8,1338.1 2285.2,1338.0 2288.7,1339.0 2290.8,1339.5"/><polyline fill="none" stroke="#006CE0" stroke-width="12.5" stroke-linejoin="round" stroke-linecap="round" points="216.6,1156.9 223.5,1153.6 227.0,1155.6 230.4,1153.2 233.9,1155.5 237.3,1152.1 240.8,1152.8 244.2,1152.5 247.7,1150.4 251.1,1153.5 254.6,1150.2 258.0,1150.1 261.5,1150.6 264.9,1151.7 268.4,1149.4 271.8,1152.3 275.3,1149.4 278.8,1148.6 282.2,1148.9 285.7,1147.7 289.1,1146.1 292.6,1146.1 296.0,1146.4 299.5,1147.5 302.9,1145.2 306.4,1144.8 309.8,1140.8 313.3,1142.5 316.7,1142.0 320.2,1143.4 323.7,1142.2 327.1,1139.2 330.6,1138.5 334.0,1136.4 337.5,1134.2 340.9,1133.8 344.4,1132.0 347.8,1131.7 351.3,1131.1 354.7,1129.1 358.2,1130.2 361.6,1126.9 365.1,1128.0 368.5,1127.8 372.0,1124.5 375.5,1126.6 378.9,1125.4 382.4,1125.0 385.8,1120.8 389.3,1119.7 392.7,1117.7 396.2,1112.6 399.6,1113.2 403.1,1108.9 406.5,1109.4 410.0,1108.1 413.4,1105.5 416.9,1100.1 420.3,1102.8 423.8,1098.8 427.3,1097.1 430.7,1091.8 434.2,1089.1 437.6,1089.6 441.1,1083.1 444.5,1079.6 448.0,1076.4 451.4,1075.2 454.9,1068.0 458.3,1066.6 461.8,1062.4 465.2,1064.4 468.7,1058.9 472.2,1054.0 475.6,1050.7 479.1,1046.1 482.5,1041.6 486.0,1038.0 489.4,1037.3 492.9,1030.1 496.3,1026.9 499.8,1024.9 503.2,1023.9 506.7,1019.1 510.1,1013.1 513.6,1011.7 517.0,1008.1 520.5,1002.2 524.0,999.8 527.4,998.2 530.9,993.2 534.3,993.7 537.8,988.0 541.2,983.3 544.7,981.0 548.1,976.5 551.6,974.5 555.0,975.4 558.5,972.3 561.9,967.3 565.4,967.2 568.9,969.8 572.3,965.2 575.8,965.8 579.2,967.5 582.7,964.0 586.1,963.0 589.6,962.0 593.0,964.3 596.5,960.1 599.9,958.4 603.4,960.5 606.8,963.0 610.3,959.9 613.7,961.8 617.2,960.8 620.7,955.8 624.1,958.3 627.6,958.1 631.0,958.7 634.5,961.6 637.9,962.4 641.4,961.6 644.8,963.1 648.3,960.0 651.7,963.4 655.2,960.2 658.6,962.3 662.1,961.2 665.5,966.9 669.0,964.5 672.5,967.9 675.9,965.0 679.4,969.6 682.8,972.4 686.3,972.8 689.7,974.9 693.2,976.7 696.6,978.3 700.1,979.8 703.5,981.1 707.0,987.1 710.4,987.6 713.9,990.2 717.4,993.2 720.8,992.8 724.3,995.4 727.7,998.3 731.2,1006.8 734.6,1005.9 738.1,1010.5 741.5,1008.7 745.0,1014.2 748.4,1017.9 751.9,1019.5 755.3,1025.2 758.8,1025.4 762.2,1028.4 765.7,1033.0 769.2,1036.3 772.6,1036.6 776.1,1037.6 779.5,1040.1 783.0,1044.5 786.4,1042.5 789.9,1044.3 793.3,1046.1 796.8,1050.8 800.2,1051.2 803.7,1050.2 807.1,1051.3 810.6,1053.2 814.0,1053.0 817.5,1052.7 821.0,1053.6 824.4,1055.0 827.9,1054.5 831.3,1055.5 834.8,1054.7 838.2,1053.4 841.7,1054.3 845.1,1053.2 848.6,1048.0 852.0,1050.3 855.5,1047.8 858.9,1045.2 862.4,1046.2 865.9,1043.3 869.3,1041.5 872.8,1037.2 876.2,1038.8 879.7,1034.0 883.1,1029.4 886.6,1030.9 890.0,1023.1 893.5,1024.0 896.9,1017.5 900.4,1013.4 903.8,1009.4 907.3,1004.8 910.7,1000.7 914.2,998.6 917.7,993.0 921.1,985.1 924.6,983.2 928.0,973.8 931.5,971.3 934.9,962.7 938.4,956.6 941.8,953.1 945.3,939.7 948.7,941.8 952.2,936.1 955.6,922.5 959.1,913.3 962.5,904.9 966.0,903.9 969.5,895.8 972.9,890.7 976.4,884.0 979.8,882.1 983.3,871.6 986.7,856.1 990.2,849.9 993.6,837.6 997.1,834.1 1000.5,820.1 1004.0,813.3 1007.4,806.1 1010.9,794.5 1014.4,780.8 1017.8,771.0 1021.3,757.2 1024.7,755.7 1028.2,745.2 1031.6,728.2 1035.1,720.6 1038.5,721.8 1042.0,707.7 1045.4,696.0 1048.9,692.2 1052.3,683.2 1055.8,678.2 1059.2,668.2 1062.7,668.1 1066.2,655.9 1069.6,646.0 1073.1,646.3 1076.5,642.2 1080.0,642.2 1083.4,640.3 1086.9,639.5 1090.3,637.8 1093.8,644.7 1097.2,646.2 1100.7,658.3 1104.1,653.7 1107.6,662.7 1111.0,669.1 1114.5,676.3 1118.0,691.0 1121.4,701.7 1124.9,713.3 1128.3,730.2 1131.8,736.3 1135.2,751.3 1138.7,763.8 1142.1,781.7 1145.6,794.5 1149.0,810.9 1152.5,829.6 1155.9,835.0 1159.4,850.8 1162.9,862.8 1166.3,869.1 1169.8,883.4 1173.2,896.0 1176.7,913.5 1180.1,927.6 1183.6,935.3 1187.0,945.0 1190.5,954.6 1193.9,958.3 1197.4,967.7 1200.8,976.9 1204.3,981.5 1207.7,992.8 1211.2,994.7 1214.7,1003.0 1218.1,1010.3 1221.6,1018.4 1225.0,1022.8 1228.5,1030.9 1231.9,1038.9 1235.4,1044.3 1238.8,1050.5 1242.3,1053.0 1245.7,1056.6 1249.2,1057.3 1252.6,1062.9 1256.1,1067.0 1259.6,1068.0 1263.0,1072.0 1266.5,1075.9 1269.9,1075.8 1273.4,1079.6 1276.8,1080.8 1280.3,1080.8 1283.7,1082.7 1287.2,1084.5 1290.6,1083.5 1294.1,1090.9 1297.5,1089.3 1301.0,1095.6 1304.4,1097.5 1307.9,1100.1 1311.4,1103.1 1314.8,1103.9 1318.3,1105.7 1321.7,1107.4 1325.2,1107.6 1328.6,1110.4 1332.1,1109.8 1335.5,1113.1 1339.0,1111.8 1342.4,1114.8 1345.9,1114.7 1349.3,1118.3 1352.8,1115.8 1356.2,1119.5 1359.7,1118.1 1363.2,1117.2 1366.6,1121.8 1370.1,1121.9 1373.5,1123.5 1377.0,1121.3 1380.4,1123.8 1383.9,1125.3 1387.3,1124.2 1390.8,1128.5 1394.2,1125.2 1397.7,1127.6 1401.1,1125.9 1404.6,1126.9 1408.1,1128.1 1411.5,1129.2 1415.0,1130.3 1418.4,1131.4 1421.9,1128.7 1425.3,1132.2 1428.8,1131.9 1432.2,1130.9 1435.7,1132.8 1439.1,1135.0 1442.6,1135.2 1446.0,1133.1 1449.5,1134.6 1452.9,1135.1 1456.4,1137.8 1459.9,1136.1 1463.3,1135.9 1466.8,1137.2 1470.2,1134.5 1473.7,1138.1 1477.1,1139.6 1480.6,1139.4 1484.0,1137.1 1487.5,1142.9 1490.9,1141.2 1494.4,1140.9 1497.8,1141.5 1501.3,1143.3 1504.7,1142.8 1508.2,1143.4 1511.7,1145.0 1515.1,1143.5 1518.6,1146.4 1522.0,1144.9 1525.5,1147.2 1528.9,1148.5 1532.4,1148.4 1535.8,1149.3 1539.3,1148.3 1542.7,1148.3 1546.2,1150.9 1549.6,1150.0 1553.1,1149.6 1556.6,1150.4 1560.0,1150.6 1563.5,1152.7 1566.9,1153.0 1570.4,1154.4 1573.8,1151.8 1577.3,1153.5 1580.7,1153.7 1584.2,1151.8 1587.6,1154.5 1591.1,1155.7 1594.5,1154.3 1598.0,1154.2 1601.4,1158.7 1604.9,1154.7 1608.4,1158.4 1611.8,1157.3 1615.3,1157.8 1618.7,1157.0 1622.2,1156.8 1625.6,1160.0 1629.1,1160.9 1632.5,1158.1 1636.0,1160.9 1639.4,1160.0 1642.9,1161.3 1646.3,1160.7 1649.8,1160.6 1653.2,1160.1 1656.7,1160.4 1660.2,1162.7 1663.6,1163.1 1667.1,1162.4 1670.5,1162.3 1674.0,1163.6 1677.4,1165.3 1680.9,1166.1 1684.3,1166.5 1687.8,1165.7 1691.2,1166.7 1694.7,1164.7 1698.1,1168.1 1701.6,1166.6 1705.1,1165.8 1708.5,1165.8 1712.0,1165.8 1715.4,1166.8 1718.9,1168.3 1722.3,1166.6 1725.8,1168.5 1729.2,1167.7 1732.7,1165.7 1736.1,1166.4 1739.6,1166.6 1743.0,1167.2 1746.5,1169.8 1749.9,1170.4 1753.4,1168.1 1756.9,1168.1 1760.3,1167.0 1763.8,1169.1 1767.2,1166.9 1770.7,1167.3 1774.1,1168.0 1777.6,1168.9 1781.0,1168.2 1784.5,1165.3 1787.9,1168.1 1791.4,1167.1 1794.8,1167.7 1798.3,1168.6 1801.7,1165.1 1805.2,1166.8 1808.7,1167.3 1812.1,1164.2 1815.6,1167.1 1819.0,1165.9 1822.5,1165.1 1825.9,1163.4 1829.4,1164.2 1832.8,1163.9 1836.3,1161.6 1839.7,1161.1 1843.2,1160.2 1846.6,1160.8 1850.1,1160.3 1853.6,1160.4 1857.0,1159.2 1860.5,1157.9 1863.9,1157.9 1867.4,1156.4 1870.8,1158.1 1874.3,1155.4 1877.7,1155.0 1881.2,1155.7 1884.6,1153.0 1888.1,1155.2 1891.5,1155.8 1895.0,1154.5 1898.4,1154.1 1901.9,1153.3 1905.4,1152.2 1908.8,1151.5 1912.3,1149.8 1915.7,1151.2 1919.2,1151.7 1922.6,1152.9 1926.1,1150.5 1929.5,1152.1 1933.0,1153.2 1936.4,1153.3 1939.9,1154.4 1943.3,1155.7 1946.8,1157.1 1950.3,1160.3 1953.7,1157.5 1957.2,1158.8 1960.6,1159.3 1964.1,1162.0 1967.5,1163.1 1971.0,1162.0 1974.4,1164.8 1977.9,1163.3 1981.3,1166.8 1984.8,1165.8 1988.2,1167.4 1991.7,1165.4 1995.1,1168.4 1998.6,1168.1 2002.1,1167.8 2005.5,1167.1 2009.0,1170.2 2012.4,1170.5 2015.9,1169.8 2019.3,1171.6 2022.8,1172.1 2026.2,1172.7 2029.7,1170.9 2033.1,1173.3 2036.6,1173.2 2040.0,1172.8 2043.5,1174.3 2046.9,1174.1 2050.4,1176.4 2053.9,1175.6 2057.3,1176.7 2060.8,1177.7 2064.2,1179.3 2067.7,1178.5 2071.1,1177.0 2074.6,1180.4 2078.0,1179.5 2081.5,1181.0 2084.9,1180.4 2088.4,1180.3 2091.8,1179.7 2095.3,1181.8 2098.8,1182.9 2102.2,1182.0 2105.7,1182.4 2109.1,1182.7 2112.6,1183.7 2116.0,1184.3 2119.5,1185.5 2122.9,1184.6 2126.4,1185.5 2129.8,1184.6 2133.3,1186.9 2136.7,1186.2 2140.2,1185.1 2143.6,1185.8 2147.1,1186.9 2150.6,1188.5 2154.0,1187.6 2157.5,1189.5 2160.9,1188.5 2164.4,1187.4 2167.8,1187.8 2171.3,1190.5 2174.7,1188.2 2178.2,1188.3 2181.6,1188.4 2185.1,1188.2 2188.5,1190.5 2192.0,1190.8 2195.4,1189.0 2198.9,1192.0 2202.4,1191.4 2205.8,1190.3 2209.3,1189.3 2212.7,1190.5 2216.2,1190.6 2219.6,1191.9 2223.1,1191.0 2226.5,1192.5 2230.0,1194.2 2233.4,1191.1 2236.9,1191.5 2240.3,1193.5 2243.8,1194.3 2247.3,1190.7 2250.7,1192.2 2254.2,1191.3 2257.6,1193.5 2261.1,1193.4 2264.5,1192.6 2268.0,1193.9 2271.4,1195.0 2274.9,1190.8 2278.3,1192.5 2281.8,1193.6 2285.2,1194.5 2288.7,1195.2 2290.8,1195.1"/><polyline fill="none" stroke="#00AD64" stroke-width="12.5" stroke-linejoin="round" stroke-linecap="round" points="216.6,997.7 223.5,997.3 227.0,995.6 230.4,996.1 233.9,995.9 237.3,995.6 240.8,998.0 244.2,994.5 247.7,994.1 251.1,993.5 254.6,995.0 258.0,992.7 261.5,992.7 264.9,993.4 268.4,992.8 271.8,990.1 275.3,993.2 278.8,990.7 282.2,991.1 285.7,989.7 289.1,990.9 292.6,987.6 296.0,986.6 299.5,987.2 302.9,987.8 306.4,985.1 309.8,985.5 313.3,985.4 316.7,980.5 320.2,983.1 323.7,981.3 327.1,977.2 330.6,975.9 334.0,973.6 337.5,973.9 340.9,970.7 344.4,971.2 347.8,971.1 351.3,965.7 354.7,967.6 358.2,965.9 361.6,964.2 365.1,964.4 368.5,962.3 372.0,959.0 375.5,958.9 378.9,958.1 382.4,955.1 385.8,952.0 389.3,955.2 392.7,951.3 396.2,948.6 399.6,944.4 403.1,938.8 406.5,939.3 410.0,938.6 413.4,935.2 416.9,933.2 420.3,932.5 423.8,932.8 427.3,927.2 430.7,923.9 434.2,919.4 437.6,919.8 441.1,914.8 444.5,911.0 448.0,907.0 451.4,902.5 454.9,898.6 458.3,895.7 461.8,886.9 465.2,883.6 468.7,877.6 472.2,876.0 475.6,869.1 479.1,870.1 482.5,861.7 486.0,859.1 489.4,854.4 492.9,852.4 496.3,845.4 499.8,839.8 503.2,830.2 506.7,826.3 510.1,821.9 513.6,817.7 517.0,812.7 520.5,809.6 524.0,802.3 527.4,798.6 530.9,793.3 534.3,790.4 537.8,786.8 541.2,789.6 544.7,785.4 548.1,784.7 551.6,781.8 555.0,777.4 558.5,777.4 561.9,771.1 565.4,775.8 568.9,772.7 572.3,771.6 575.8,769.8 579.2,769.5 582.7,766.4 586.1,766.0 589.6,763.4 593.0,763.5 596.5,764.1 599.9,765.0 603.4,761.8 606.8,759.2 610.3,758.0 613.7,761.4 617.2,760.1 620.7,762.9 624.1,765.1 627.6,759.4 631.0,764.2 634.5,764.3 637.9,759.8 641.4,761.3 644.8,764.2 648.3,760.6 651.7,760.0 655.2,763.9 658.6,760.7 662.1,760.8 665.5,765.0 669.0,765.8 672.5,768.5 675.9,773.4 679.4,775.5 682.8,771.6 686.3,780.3 689.7,781.4 693.2,785.2 696.6,789.7 700.1,795.4 703.5,796.8 707.0,798.3 710.4,802.8 713.9,802.0 717.4,809.8 720.8,812.8 724.3,813.9 727.7,817.7 731.2,822.4 734.6,828.2 738.1,836.1 741.5,839.0 745.0,842.1 748.4,846.8 751.9,853.3 755.3,853.8 758.8,856.2 762.2,864.9 765.7,862.5 769.2,867.9 772.6,871.5 776.1,872.9 779.5,874.9 783.0,879.9 786.4,880.1 789.9,883.2 793.3,884.1 796.8,889.0 800.2,886.4 803.7,887.4 807.1,889.5 810.6,892.0 814.0,893.0 817.5,894.8 821.0,894.6 824.4,897.3 827.9,894.6 831.3,895.0 834.8,896.3 838.2,894.9 841.7,893.8 845.1,893.1 848.6,891.6 852.0,892.0 855.5,891.4 858.9,890.7 862.4,886.9 865.9,883.3 869.3,880.3 872.8,877.9 876.2,874.5 879.7,875.7 883.1,874.9 886.6,868.7 890.0,866.0 893.5,858.1 896.9,858.2 900.4,853.1 903.8,849.6 907.3,842.6 910.7,837.0 914.2,830.7 917.7,824.4 921.1,822.8 924.6,813.2 928.0,802.4 931.5,798.7 934.9,792.3 938.4,791.3 941.8,776.6 945.3,775.4 948.7,769.3 952.2,764.8 955.6,754.6 959.1,740.1 962.5,728.7 966.0,723.4 969.5,717.5 972.9,711.6 976.4,703.2 979.8,692.4 983.3,683.2 986.7,674.1 990.2,665.3 993.6,653.8 997.1,641.6 1000.5,628.7 1004.0,627.5 1007.4,610.7 1010.9,601.0 1014.4,596.7 1017.8,581.0 1021.3,572.7 1024.7,557.0 1028.2,546.1 1031.6,528.7 1035.1,523.1 1038.5,515.9 1042.0,499.2 1045.4,489.9 1048.9,483.3 1052.3,473.5 1055.8,456.5 1059.2,447.0 1062.7,438.1 1066.2,432.3 1069.6,413.7 1073.1,411.0 1076.5,408.5 1080.0,407.1 1083.4,407.2 1086.9,406.9 1090.3,417.1 1093.8,415.5 1097.2,432.5 1100.7,432.4 1104.1,442.5 1107.6,445.8 1111.0,462.8 1114.5,470.6 1118.0,484.3 1121.4,505.5 1124.9,516.6 1128.3,529.0 1131.8,544.0 1135.2,568.5 1138.7,581.6 1142.1,599.4 1145.6,614.8 1149.0,628.4 1152.5,632.3 1155.9,649.5 1159.4,678.1 1162.9,685.0 1166.3,706.3 1169.8,719.7 1173.2,734.1 1176.7,750.0 1180.1,761.0 1183.6,776.4 1187.0,787.1 1190.5,798.9 1193.9,812.7 1197.4,817.2 1200.8,828.0 1204.3,837.5 1207.7,839.2 1211.2,845.4 1214.7,852.1 1218.1,857.4 1221.6,862.1 1225.0,872.0 1228.5,880.1 1231.9,887.0 1235.4,894.8 1238.8,899.4 1242.3,904.2 1245.7,905.4 1249.2,909.4 1252.6,912.3 1256.1,918.0 1259.6,920.9 1263.0,923.5 1266.5,925.0 1269.9,929.8 1273.4,935.4 1276.8,939.6 1280.3,937.5 1283.7,943.3 1287.2,940.4 1290.6,942.6 1294.1,946.3 1297.5,947.6 1301.0,951.4 1304.4,954.1 1307.9,955.6 1311.4,957.8 1314.8,960.8 1318.3,963.4 1321.7,966.3 1325.2,964.9 1328.6,964.0 1332.1,966.8 1335.5,966.6 1339.0,970.3 1342.4,970.7 1345.9,973.5 1349.3,974.1 1352.8,975.8 1356.2,976.5 1359.7,980.4 1363.2,977.0 1366.6,982.0 1370.1,983.1 1373.5,983.2 1377.0,983.6 1380.4,984.6 1383.9,984.3 1387.3,984.1 1390.8,987.3 1394.2,987.9 1397.7,988.7 1401.1,988.0 1404.6,990.1 1408.1,990.2 1411.5,992.4 1415.0,990.5 1418.4,988.3 1421.9,990.2 1425.3,992.6 1428.8,990.8 1432.2,994.0 1435.7,992.7 1439.1,994.2 1442.6,994.9 1446.0,993.9 1449.5,996.0 1452.9,997.5 1456.4,995.8 1459.9,996.6 1463.3,996.8 1466.8,998.9 1470.2,999.8 1473.7,998.3 1477.1,999.1 1480.6,1001.1 1484.0,1000.7 1487.5,1003.3 1490.9,1001.6 1494.4,1001.3 1497.8,1001.1 1501.3,1002.3 1504.7,1001.5 1508.2,1004.5 1511.7,1006.8 1515.1,1003.3 1518.6,1004.1 1522.0,1004.9 1525.5,1006.7 1528.9,1006.3 1532.4,1009.1 1535.8,1009.9 1539.3,1008.3 1542.7,1009.4 1546.2,1009.3 1549.6,1011.5 1553.1,1013.3 1556.6,1010.3 1560.0,1011.4 1563.5,1011.0 1566.9,1013.3 1570.4,1013.7 1573.8,1012.5 1577.3,1013.5 1580.7,1016.8 1584.2,1016.9 1587.6,1013.7 1591.1,1015.1 1594.5,1015.0 1598.0,1016.3 1601.4,1014.8 1604.9,1017.1 1608.4,1018.0 1611.8,1018.6 1615.3,1015.7 1618.7,1020.0 1622.2,1017.1 1625.6,1016.9 1629.1,1020.3 1632.5,1020.3 1636.0,1019.6 1639.4,1021.1 1642.9,1021.2 1646.3,1021.1 1649.8,1019.8 1653.2,1021.0 1656.7,1021.7 1660.2,1023.5 1663.6,1024.3 1667.1,1022.7 1670.5,1022.5 1674.0,1022.7 1677.4,1025.0 1680.9,1023.6 1684.3,1027.1 1687.8,1025.3 1691.2,1025.6 1694.7,1026.5 1698.1,1026.0 1701.6,1025.3 1705.1,1026.7 1708.5,1027.2 1712.0,1026.5 1715.4,1027.0 1718.9,1027.5 1722.3,1025.6 1725.8,1027.1 1729.2,1028.0 1732.7,1027.1 1736.1,1029.1 1739.6,1029.3 1743.0,1026.4 1746.5,1028.3 1749.9,1029.6 1753.4,1028.7 1756.9,1029.7 1760.3,1029.7 1763.8,1027.2 1767.2,1029.0 1770.7,1027.5 1774.1,1025.8 1777.6,1028.8 1781.0,1027.2 1784.5,1027.8 1787.9,1028.7 1791.4,1029.0 1794.8,1027.5 1798.3,1026.6 1801.7,1026.9 1805.2,1028.8 1808.7,1027.1 1812.1,1029.3 1815.6,1029.0 1819.0,1026.3 1822.5,1028.8 1825.9,1025.8 1829.4,1025.8 1832.8,1025.4 1836.3,1023.8 1839.7,1024.5 1843.2,1024.5 1846.6,1025.9 1850.1,1024.3 1853.6,1021.6 1857.0,1022.1 1860.5,1022.7 1863.9,1020.8 1867.4,1019.5 1870.8,1019.9 1874.3,1018.3 1877.7,1019.3 1881.2,1018.1 1884.6,1019.6 1888.1,1017.5 1891.5,1015.7 1895.0,1017.3 1898.4,1015.3 1901.9,1013.6 1905.4,1014.1 1908.8,1011.8 1912.3,1009.9 1915.7,1009.9 1919.2,1012.3 1922.6,1012.7 1926.1,1010.9 1929.5,1012.8 1933.0,1011.5 1936.4,1016.1 1939.9,1016.5 1943.3,1019.0 1946.8,1019.4 1950.3,1021.0 1953.7,1020.1 1957.2,1023.2 1960.6,1022.8 1964.1,1024.4 1967.5,1026.5 1971.0,1022.4 1974.4,1026.9 1977.9,1026.7 1981.3,1027.1 1984.8,1028.2 1988.2,1027.2 1991.7,1026.1 1995.1,1028.0 1998.6,1028.8 2002.1,1027.0 2005.5,1030.7 2009.0,1031.1 2012.4,1029.7 2015.9,1031.5 2019.3,1032.0 2022.8,1032.4 2026.2,1032.7 2029.7,1034.4 2033.1,1033.9 2036.6,1036.4 2040.0,1034.8 2043.5,1036.4 2046.9,1037.0 2050.4,1034.2 2053.9,1036.6 2057.3,1037.3 2060.8,1037.8 2064.2,1038.1 2067.7,1039.4 2071.1,1039.5 2074.6,1038.7 2078.0,1040.7 2081.5,1039.6 2084.9,1040.7 2088.4,1040.1 2091.8,1039.8 2095.3,1040.5 2098.8,1043.7 2102.2,1043.4 2105.7,1042.4 2109.1,1044.3 2112.6,1042.9 2116.0,1043.5 2119.5,1042.9 2122.9,1044.7 2126.4,1046.0 2129.8,1048.4 2133.3,1045.7 2136.7,1046.6 2140.2,1047.1 2143.6,1047.9 2147.1,1046.5 2150.6,1046.3 2154.0,1048.6 2157.5,1046.7 2160.9,1048.8 2164.4,1047.9 2167.8,1048.7 2171.3,1049.4 2174.7,1047.3 2178.2,1051.6 2181.6,1048.1 2185.1,1048.5 2188.5,1050.4 2192.0,1046.7 2195.4,1049.2 2198.9,1050.5 2202.4,1050.1 2205.8,1050.5 2209.3,1050.4 2212.7,1050.6 2216.2,1050.6 2219.6,1053.2 2223.1,1052.0 2226.5,1050.5 2230.0,1051.5 2233.4,1052.9 2236.9,1053.7 2240.3,1051.1 2243.8,1052.7 2247.3,1050.6 2250.7,1052.7 2254.2,1055.4 2257.6,1054.6 2261.1,1053.8 2264.5,1053.3 2268.0,1054.6 2271.4,1055.0 2274.9,1055.4 2278.3,1056.2 2281.8,1055.8 2285.2,1054.0 2288.7,1055.3 2290.8,1055.7"/><polyline fill="none" stroke="#C078E0" stroke-width="12.5" stroke-linejoin="round" stroke-linecap="round" points="216.6,838.3 223.5,838.4 227.0,838.5 230.4,835.5 233.9,834.5 237.3,835.3 240.8,833.5 244.2,833.7 247.7,834.0 251.1,832.1 254.6,832.1 258.0,827.5 261.5,830.8 264.9,828.8 268.4,827.3 271.8,827.6 275.3,825.9 278.8,825.4 282.2,823.9 285.7,825.1 289.1,823.8 292.6,824.1 296.0,825.5 299.5,824.2 302.9,822.1 306.4,823.7 309.8,823.8 313.3,822.0 316.7,821.3 320.2,820.4 323.7,818.3 327.1,819.7 330.6,817.8 334.0,815.8 337.5,814.6 340.9,813.3 344.4,814.2 347.8,810.8 351.3,807.9 354.7,809.0 358.2,808.8 361.6,807.3 365.1,804.7 368.5,801.7 372.0,805.1 375.5,799.7 378.9,799.7 382.4,797.8 385.8,795.6 389.3,794.2 392.7,791.4 396.2,789.7 399.6,788.0 403.1,786.0 406.5,786.2 410.0,777.6 413.4,776.8 416.9,772.1 420.3,768.5 423.8,764.4 427.3,763.7 430.7,759.4 434.2,758.2 437.6,755.0 441.1,749.2 444.5,749.1 448.0,743.4 451.4,739.7 454.9,736.0 458.3,730.7 461.8,728.7 465.2,725.3 468.7,718.4 472.2,715.1 475.6,712.3 479.1,705.8 482.5,699.7 486.0,697.8 489.4,691.5 492.9,686.4 496.3,679.6 499.8,677.9 503.2,671.5 506.7,669.2 510.1,660.4 513.6,657.8 517.0,658.7 520.5,655.3 524.0,648.8 527.4,645.0 530.9,636.4 534.3,638.6 537.8,632.8 541.2,626.2 544.7,624.8 548.1,621.0 551.6,621.4 555.0,617.7 558.5,620.0 561.9,615.9 565.4,611.1 568.9,610.5 572.3,605.5 575.8,608.9 579.2,605.3 582.7,605.6 586.1,605.2 589.6,603.8 593.0,602.2 596.5,604.1 599.9,603.5 603.4,595.6 606.8,599.1 610.3,599.3 613.7,597.8 617.2,598.8 620.7,599.5 624.1,597.3 627.6,596.2 631.0,598.8 634.5,597.4 637.9,597.4 641.4,601.5 644.8,599.5 648.3,595.4 651.7,601.2 655.2,597.5 658.6,600.4 662.1,596.4 665.5,603.1 669.0,597.6 672.5,602.9 675.9,607.4 679.4,605.9 682.8,607.3 686.3,608.2 689.7,612.8 693.2,618.3 696.6,614.6 700.1,620.4 703.5,628.4 707.0,627.8 710.4,633.7 713.9,635.2 717.4,634.7 720.8,639.4 724.3,646.3 727.7,647.4 731.2,652.8 734.6,658.7 738.1,661.0 741.5,665.9 745.0,671.7 748.4,674.4 751.9,678.5 755.3,683.0 758.8,688.2 762.2,687.7 765.7,689.8 769.2,699.6 772.6,699.7 776.1,698.4 779.5,704.3 783.0,705.1 786.4,711.6 789.9,710.5 793.3,713.6 796.8,719.0 800.2,716.8 803.7,719.6 807.1,721.6 810.6,723.8 814.0,724.5 817.5,725.7 821.0,722.5 824.4,724.6 827.9,721.1 831.3,723.7 834.8,722.7 838.2,725.1 841.7,721.8 845.1,719.6 848.6,718.4 852.0,716.1 855.5,715.2 858.9,713.1 862.4,712.2 865.9,708.9 869.3,707.3 872.8,706.3 876.2,699.5 879.7,697.0 883.1,692.6 886.6,694.8 890.0,690.2 893.5,683.5 896.9,677.8 900.4,670.8 903.8,669.3 907.3,662.3 910.7,657.5 914.2,651.2 917.7,639.5 921.1,636.1 924.6,632.6 928.0,628.8 931.5,619.1 934.9,614.7 938.4,605.2 941.8,594.6 945.3,590.6 948.7,580.2 952.2,573.9 955.6,573.2 959.1,563.5 962.5,550.3 966.0,542.4 969.5,528.6 972.9,520.8 976.4,513.3 979.8,503.1 983.3,492.0 986.7,475.0 990.2,469.8 993.6,452.5 997.1,444.0 1000.5,439.9 1004.0,423.6 1007.4,409.2 1010.9,403.5 1014.4,389.1 1017.8,374.8 1021.3,360.1 1024.7,347.7 1028.2,335.1 1031.6,323.6 1035.1,315.3 1038.5,295.3 1042.0,281.0 1045.4,263.0 1048.9,259.9 1052.3,244.2 1055.8,239.0 1059.2,223.1 1062.7,219.4 1066.2,199.7 1069.6,190.7 1073.1,185.1 1076.5,180.2 1080.0,178.5 1083.4,175.0 1086.9,164.6 1090.3,168.6 1093.8,173.8 1097.2,185.3 1100.7,188.6 1104.1,201.0 1107.6,212.4 1111.0,223.1 1114.5,226.3 1118.0,253.0 1121.4,260.6 1124.9,272.5 1128.3,292.5 1131.8,305.7 1135.2,323.8 1138.7,339.0 1142.1,368.3 1145.6,380.1 1149.0,401.5 1152.5,416.7 1155.9,443.4 1159.4,466.3 1162.9,481.8 1166.3,494.5 1169.8,512.4 1173.2,526.8 1176.7,544.7 1180.1,558.9 1183.6,573.3 1187.0,584.4 1190.5,596.3 1193.9,610.7 1197.4,626.8 1200.8,632.0 1204.3,637.8 1207.7,641.2 1211.2,649.6 1214.7,657.4 1218.1,668.3 1221.6,675.1 1225.0,679.5 1228.5,688.7 1231.9,694.1 1235.4,702.4 1238.8,708.1 1242.3,716.8 1245.7,720.4 1249.2,724.3 1252.6,729.0 1256.1,732.7 1259.6,736.0 1263.0,740.4 1266.5,741.5 1269.9,745.3 1273.4,748.8 1276.8,748.6 1280.3,751.2 1283.7,755.8 1287.2,756.5 1290.6,758.0 1294.1,762.4 1297.5,764.2 1301.0,766.4 1304.4,771.7 1307.9,771.6 1311.4,774.0 1314.8,776.5 1318.3,779.6 1321.7,781.0 1325.2,780.7 1328.6,782.9 1332.1,783.7 1335.5,786.4 1339.0,786.7 1342.4,786.3 1345.9,789.1 1349.3,787.1 1352.8,789.1 1356.2,787.9 1359.7,792.5 1363.2,792.0 1366.6,793.9 1370.1,797.6 1373.5,795.4 1377.0,796.3 1380.4,796.3 1383.9,798.3 1387.3,798.3 1390.8,800.4 1394.2,801.2 1397.7,801.7 1401.1,801.8 1404.6,802.6 1408.1,803.5 1411.5,804.1 1415.0,805.6 1418.4,804.7 1421.9,805.9 1425.3,807.4 1428.8,809.6 1432.2,808.5 1435.7,808.5 1439.1,809.0 1442.6,811.7 1446.0,809.6 1449.5,810.2 1452.9,811.2 1456.4,810.9 1459.9,812.0 1463.3,813.4 1466.8,813.1 1470.2,811.6 1473.7,815.0 1477.1,816.0 1480.6,814.9 1484.0,818.3 1487.5,816.9 1490.9,817.5 1494.4,816.1 1497.8,821.1 1501.3,821.2 1504.7,820.8 1508.2,821.9 1511.7,819.5 1515.1,820.2 1518.6,821.9 1522.0,821.9 1525.5,821.0 1528.9,823.1 1532.4,824.4 1535.8,823.5 1539.3,826.0 1542.7,825.1 1546.2,824.6 1549.6,824.6 1553.1,824.7 1556.6,827.5 1560.0,825.3 1563.5,828.0 1566.9,828.5 1570.4,826.7 1573.8,829.3 1577.3,829.2 1580.7,831.6 1584.2,830.5 1587.6,830.2 1591.1,831.5 1594.5,832.8 1598.0,830.8 1601.4,831.3 1604.9,833.6 1608.4,835.5 1611.8,832.0 1615.3,835.8 1618.7,835.0 1622.2,835.8 1625.6,836.0 1629.1,835.2 1632.5,835.4 1636.0,839.0 1639.4,835.3 1642.9,837.3 1646.3,839.2 1649.8,837.8 1653.2,839.1 1656.7,838.7 1660.2,838.1 1663.6,839.9 1667.1,839.6 1670.5,839.2 1674.0,841.0 1677.4,840.1 1680.9,841.1 1684.3,840.6 1687.8,843.1 1691.2,842.8 1694.7,842.5 1698.1,842.3 1701.6,842.6 1705.1,843.0 1708.5,842.5 1712.0,845.4 1715.4,843.1 1718.9,845.2 1722.3,845.4 1725.8,844.2 1729.2,844.4 1732.7,843.1 1736.1,844.3 1739.6,843.8 1743.0,845.4 1746.5,843.6 1749.9,843.6 1753.4,844.9 1756.9,842.1 1760.3,843.1 1763.8,845.0 1767.2,843.4 1770.7,844.4 1774.1,840.0 1777.6,842.3 1781.0,842.7 1784.5,841.1 1787.9,843.4 1791.4,840.5 1794.8,841.0 1798.3,841.6 1801.7,840.9 1805.2,840.0 1808.7,838.8 1812.1,839.5 1815.6,837.9 1819.0,839.9 1822.5,837.4 1825.9,836.0 1829.4,837.6 1832.8,837.7 1836.3,835.4 1839.7,833.6 1843.2,831.7 1846.6,832.0 1850.1,833.0 1853.6,832.0 1857.0,828.6 1860.5,830.4 1863.9,827.5 1867.4,829.7 1870.8,830.3 1874.3,827.5 1877.7,828.5 1881.2,826.1 1884.6,825.9 1888.1,826.5 1891.5,826.1 1895.0,823.7 1898.4,825.0 1901.9,822.6 1905.4,818.0 1908.8,821.5 1912.3,820.8 1915.7,815.9 1919.2,818.8 1922.6,819.7 1926.1,819.2 1929.5,818.8 1933.0,819.8 1936.4,822.4 1939.9,823.7 1943.3,826.6 1946.8,827.9 1950.3,830.8 1953.7,829.5 1957.2,831.6 1960.6,832.3 1964.1,832.5 1967.5,834.1 1971.0,832.1 1974.4,834.1 1977.9,837.3 1981.3,836.5 1984.8,836.5 1988.2,838.3 1991.7,837.6 1995.1,837.2 1998.6,839.4 2002.1,840.9 2005.5,840.2 2009.0,843.1 2012.4,842.3 2015.9,842.7 2019.3,842.7 2022.8,846.3 2026.2,847.2 2029.7,844.0 2033.1,845.8 2036.6,845.6 2040.0,848.2 2043.5,847.4 2046.9,849.1 2050.4,848.4 2053.9,848.0 2057.3,851.2 2060.8,850.2 2064.2,850.3 2067.7,850.1 2071.1,851.8 2074.6,853.2 2078.0,852.1 2081.5,855.4 2084.9,855.2 2088.4,854.1 2091.8,855.0 2095.3,854.5 2098.8,855.9 2102.2,854.6 2105.7,855.1 2109.1,859.2 2112.6,857.3 2116.0,858.4 2119.5,857.0 2122.9,858.7 2126.4,858.4 2129.8,856.7 2133.3,858.9 2136.7,859.4 2140.2,859.6 2143.6,861.1 2147.1,860.9 2150.6,859.1 2154.0,860.0 2157.5,860.8 2160.9,861.3 2164.4,861.4 2167.8,860.2 2171.3,862.1 2174.7,861.7 2178.2,860.0 2181.6,860.1 2185.1,861.1 2188.5,861.9 2192.0,861.6 2195.4,862.1 2198.9,861.8 2202.4,862.9 2205.8,864.1 2209.3,864.2 2212.7,862.2 2216.2,865.0 2219.6,865.7 2223.1,863.7 2226.5,866.5 2230.0,865.0 2233.4,864.0 2236.9,866.9 2240.3,865.5 2243.8,865.4 2247.3,868.1 2250.7,868.0 2254.2,866.4 2257.6,866.3 2261.1,867.3 2264.5,867.8 2268.0,868.7 2271.4,865.6 2274.9,868.7 2278.3,868.8 2281.8,868.5 2285.2,869.2 2288.7,870.0 2290.8,867.8"/></g>
<g font-size="75"><text x="223.5" y="1795" text-anchor="middle">10</text><text x="568.8" y="1795" text-anchor="middle">15</text><text x="914.2" y="1795" text-anchor="middle">20</text><text x="1259.5" y="1795" text-anchor="middle">25</text><text x="1604.9" y="1795" text-anchor="middle">30</text><text x="1950.2" y="1795" text-anchor="middle">35</text><text x="2295.6" y="1795" text-anchor="middle">40</text></g>
<g font-size="80">
<text x="873" y="141">(002)</text>
<text x="397" y="564">(101)</text>
<text x="1712" y="758">(040)</text>
</g>
<g font-size="54">
<text x="2188" y="821">PV<tspan font-size="37" dy="14.5">8</tspan></text>
<text x="2180" y="980">PV<tspan font-size="37" dy="14.5">6</tspan></text>
<text x="2179" y="1137">PV<tspan font-size="37" dy="14.5">4</tspan></text>
<text x="2184" y="1299">PV<tspan font-size="37" dy="14.5">2</tspan></text>
<text x="2188" y="1464">PV</text>
<text x="2160" y="1579">PV<tspan font-size="37" dy="14.5">10</tspan></text>
</g>
<text x="1125" y="1930" font-size="87"><tspan font-style="italic">2θ</tspan>(deg)</text>
<text transform="translate(91,1071.5) rotate(-90)" font-size="87">Intensity(a.u.)</text>
</svg>
</body></html>
